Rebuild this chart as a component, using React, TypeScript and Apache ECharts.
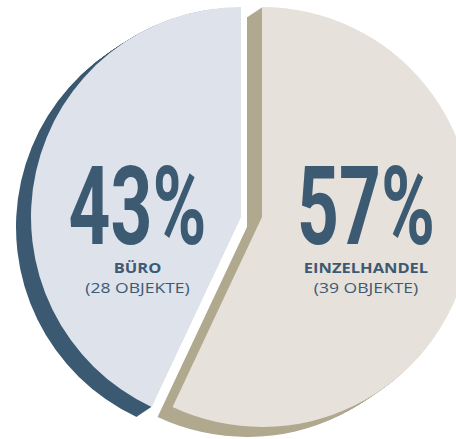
import React, { useEffect, useRef } from "react";
import * as echarts from "echarts";

// ---- data ----
const CATEGORIES = ["EINZELHANDEL", "BÜRO"];
const SHARES = [57, 43];
const OBJECT_COUNTS = [39, 28];

// ---- styles ----
const FACE_COLORS = ["#e6e1da", "#dee2ea"];
const SIDE_COLORS = ["#b1a98f", "#3c5a72"];
const TEXT_COLOR = "#3d5a73";
const CENTERS: [number, number][] = [
  [262, 217],
  [241, 217],
];
const RADIUS = 210;
const DEPTH_X = -15;
const DEPTH_Y = 10;
const STEPS = 16;
const LABEL_X = [366, 137.5];

function sliceSeries(i: number, cx: number, cy: number, color: string) {
  return {
    type: "pie",
    silent: true,
    z: 2,
    radius: RADIUS,
    center: [cx, cy],
    startAngle: 90,
    clockwise: true,
    label: { show: false },
    labelLine: { show: false },
    emphasis: { disabled: true },
    data: SHARES.map((v, j) => ({
      value: v,
      name: CATEGORIES[j],
      itemStyle: { color: j === i ? color : "rgba(0,0,0,0)" },
    })),
  };
}

export default function App() {
  const ref = useRef<HTMLDivElement>(null);
  useEffect(() => {
    document.body.style.margin = "0";
    if (!ref.current) return;
    const chart = echarts.init(ref.current, undefined, { renderer: "svg" });
    const series: any[] = [];
    // draw Büro first, then Einzelhandel
    [1, 0].forEach((i) => {
      const [cx, cy] = CENTERS[i];
      for (let s = STEPS; s >= 1; s--) {
        const t = s / STEPS;
        series.push(sliceSeries(i, cx + DEPTH_X * t, cy + DEPTH_Y * t, SIDE_COLORS[i]));
      }
      series.push(sliceSeries(i, cx, cy, FACE_COLORS[i]));
    });

    const graphics: any[] = [];
    SHARES.forEach((v, i) => {
      graphics.push({
        type: "text",
        x: LABEL_X[i],
        y: 206.5,
        scaleX: 0.67,
        z: 100,
        silent: true,
        style: {
          text: `${v}%`,
          font: "bold 109px Roboto",
          fill: TEXT_COLOR,
          align: "center",
          verticalAlign: "middle",
        },
      });
      graphics.push({
        type: "text",
        x: LABEL_X[i],
        y: 267.5,
        scaleX: 1.1,
        z: 100,
        silent: true,
        style: {
          text: CATEGORIES[i],
          font: "bold 15px 'Open Sans'",
          fill: TEXT_COLOR,
          align: "center",
          verticalAlign: "middle",
        },
      });
      graphics.push({
        type: "text",
        x: LABEL_X[i],
        y: 287,
        scaleX: 1.17,
        z: 100,
        silent: true,
        style: {
          text: `(${OBJECT_COUNTS[i]} OBJEKTE)`,
          font: "15px 'Open Sans'",
          fill: TEXT_COLOR,
          align: "center",
          verticalAlign: "middle",
        },
      });
    });

    chart.setOption({
      animation: false,
      backgroundColor: "#ffffff",
      tooltip: { show: false },
      legend: { show: false },
      series,
      graphic: { elements: graphics },
    });
    return () => chart.dispose();
  }, []);
  return <div ref={ref} style={{ width: 456, height: 439 }} />;
}
